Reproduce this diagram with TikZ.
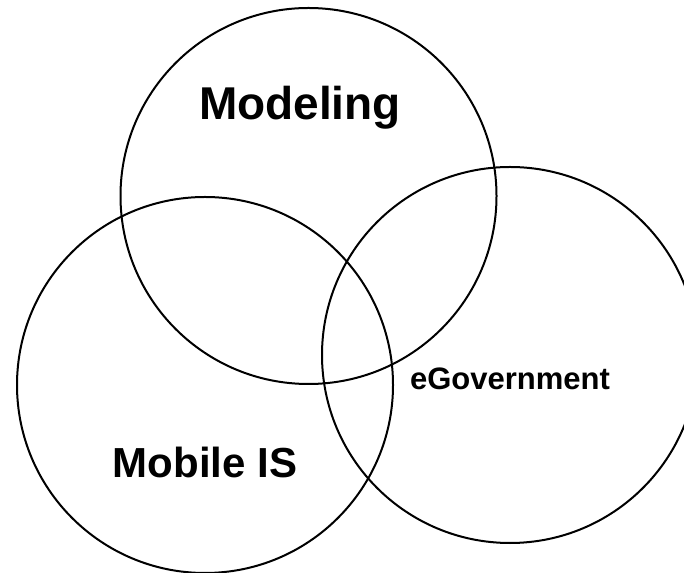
\documentclass[tikz,border=0pt]{standalone}
\usepackage{fontspec}
\setmainfont{Liberation Sans}
\begin{document}
\begin{tikzpicture}[x=1pt,y=1pt,
  venn/.style={draw=black,line width=2pt,circle,minimum size=376pt,inner sep=0pt},
  lbl/.style={anchor=base,font=\bfseries,inner sep=0pt}]
\useasboundingbox (0,0) rectangle (684,572);
\clip (0,0) rectangle (684,572);
\node[venn] (model) at (308.5,376) {};
\node[venn] (mobile) at (205,187) {};
\node[venn] (egov) at (510,217) {};
\node[lbl,font=\bfseries\fontsize{46}{50}\selectfont] (tmodel) at (300,452) {Modeling};
\node[lbl,font=\bfseries\fontsize{42}{46}\selectfont] (tmobile) at (205,94) {Mobile IS};
\node[lbl,font=\bfseries\fontsize{31}{34}\selectfont] (tegov) at (510,182) {eGovernment};
\end{tikzpicture}
\end{document}
